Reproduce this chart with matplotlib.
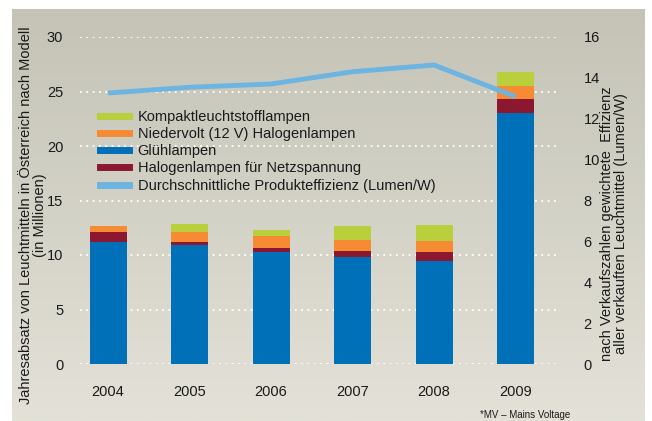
import matplotlib
matplotlib.use("Agg")
from matplotlib import pyplot as plt
from matplotlib.lines import Line2D
import numpy as np

plt.rcParams['font.family'] = ['Liberation Sans', 'DejaVu Sans']

years = ['2004', '2005', '2006', '2007', '2008', '2009']
gluehlampen = [11.2, 10.9, 10.3, 9.8, 9.45, 23.0]
halogen_netz = [0.9, 0.3, 0.35, 0.55, 0.8, 1.3]
niedervolt = [0.55, 0.9, 1.1, 1.0, 1.0, 1.2]
kompakt = [0.0, 0.75, 0.52, 1.3, 1.47, 1.3]
effizienz = [13.26, 13.54, 13.7, 14.3, 14.63, 13.08]

c_blue = '#0070b8'
c_red = '#8b1730'
c_orange = '#f68b33'
c_green = '#b9cf3c'
c_line = '#6db4e0'

fig = plt.figure(figsize=(6.52, 4.21), dpi=100)

# gradient background panel
bg = fig.add_axes([12/652, 0, (645-12)/652, 412/421])
grad = np.linspace(0, 1, 256).reshape(-1, 1)
top = np.array([196, 195, 182]) / 255
bot = np.array([228, 226, 216]) / 255
img = top + (bot - top) * grad[:, :, None]
bg.imshow(img, aspect='auto', extent=[0, 1, 0, 1])
bg.axis('off')

ax = fig.add_axes([80/652, (421-364)/421, 480/652, 327/421])
ax.patch.set_alpha(0)
x = np.arange(len(years))
w = 0.454

b1 = np.array(gluehlampen)
b2 = b1 + np.array(halogen_netz)
b3 = b2 + np.array(niedervolt)
ax.bar(x, gluehlampen, w, color=c_blue, zorder=3)
ax.bar(x, halogen_netz, w, bottom=b1, color=c_red, zorder=3)
ax.bar(x, niedervolt, w, bottom=b2, color=c_orange, zorder=3)
ax.bar(x, kompakt, w, bottom=b3, color=c_green, zorder=3)

ax.set_xlim(-0.344, 5.546)
ax.set_ylim(0, 30)
ax.set_yticks([0, 5, 10, 15, 20, 25, 30])
ax.set_xticks(x)
ax.set_xticklabels(years)
ax.grid(True, axis='y', color='white', linestyle=(0, (1, 2.5)), linewidth=1.3, zorder=1)
for s in ax.spines.values():
    s.set_visible(False)
ax.tick_params(axis='y', length=0, pad=12, labelsize=10.5, labelcolor='#1a1a1a')
ax.tick_params(axis='x', length=0, pad=15, labelsize=10.5, labelcolor='#1a1a1a')
ax.set_ylabel('Jahresabsatz von Leuchtmitteln in Österreich nach Modell\n(in Millionen)',
              fontsize=10.5, linespacing=1.0, labelpad=0, color='#1a1a1a', y=0.455)

ax2 = ax.twinx()
ax2.plot(x, effizienz, color=c_line, lw=3.5, solid_capstyle='butt', zorder=4)
ax2.set_ylim(0, 16)
ax2.set_yticks([0, 2, 4, 6, 8, 10, 12, 14, 16])
for s in ax2.spines.values():
    s.set_visible(False)
ax2.tick_params(axis='y', length=0, pad=17, labelsize=10.5, labelcolor='#1a1a1a')
ax2.set_ylabel('nach Verkaufszahlen gewichtete  Effizienz\naller verkauften Leuchtmittel (Lumen/W)',
               fontsize=10.5, linespacing=1.0, labelpad=0, color='#1a1a1a', y=0.43)

handles = [
    Line2D([], [], color=c_green, lw=5),
    Line2D([], [], color=c_orange, lw=5),
    Line2D([], [], color=c_blue, lw=5),
    Line2D([], [], color=c_red, lw=5),
    Line2D([], [], color=c_line, lw=5),
]
labels = ['Kompaktleuchtstofflampen', 'Niedervolt (12 V) Halogenlampen', 'Glühlampen',
          'Halogenlampen für Netzspannung', 'Durchschnittliche Produkteffizienz (Lumen/W)']
leg = ax2.legend(handles, labels, loc='upper left', bbox_to_anchor=(94/652, 1 - 104/421),
                 bbox_transform=fig.transFigure, frameon=False, fontsize=10.5,
                 handlelength=2.0, handletextpad=0.6, labelspacing=0.22, borderaxespad=0)
for t in leg.get_texts():
    t.set_color('#1a1a1a')

fig.text(480/652, 1 - 420/421, '*MV – Mains Voltage', fontsize=7, va='bottom', color='#1a1a1a')

fig.savefig('out.png', dpi=100)
